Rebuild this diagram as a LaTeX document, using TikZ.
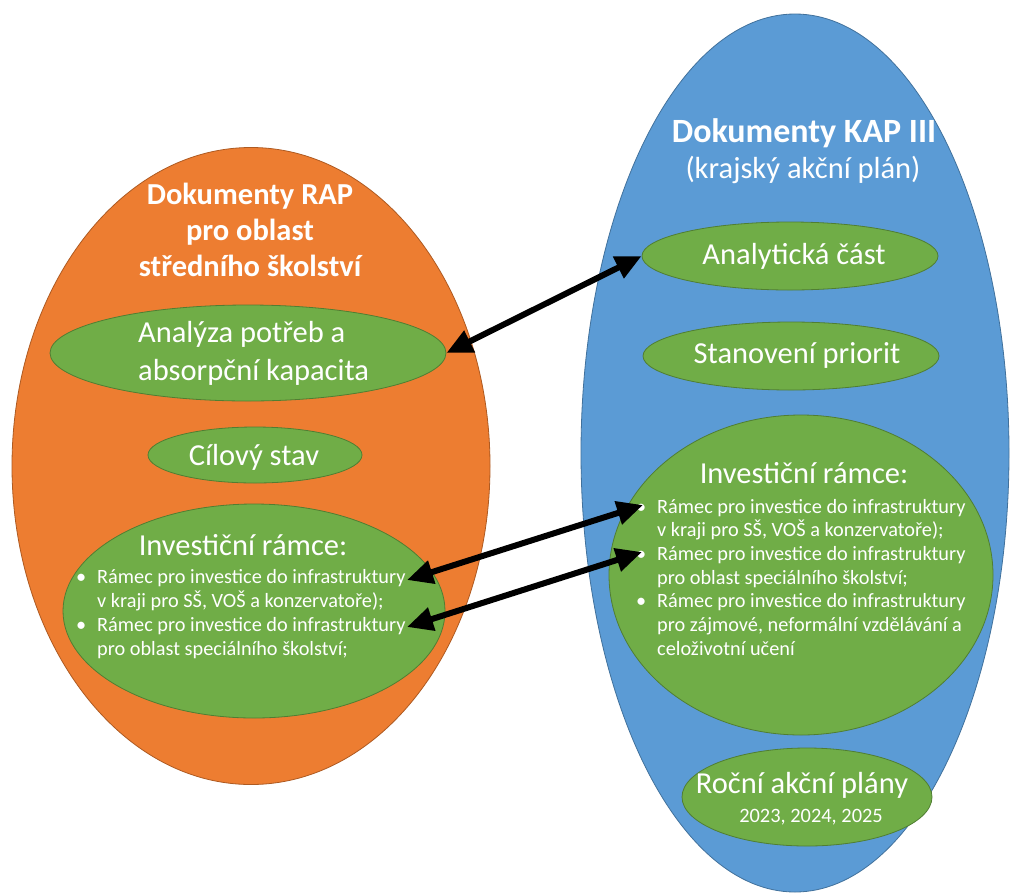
\documentclass[tikz,border=0pt]{standalone}
\usepackage{fontspec}
\setmainfont{Carlito}
\usetikzlibrary{shapes.geometric,arrows.meta}
\definecolor{raporange}{HTML}{ED7D31}
\definecolor{rapedge}{HTML}{AE5A21}
\definecolor{kapblue}{HTML}{5B9BD5}
\definecolor{kapedge}{HTML}{41719C}
\definecolor{partgreen}{HTML}{70AD47}
\definecolor{partedge}{HTML}{507E32}
\newcommand{\txtrows}[2][c]{\begin{tabular}[t]{@{}#1@{}}#2\end{tabular}}
\newcommand{\bulrows}[1]{\begin{tabular}[t]{@{}p{21pt}@{}l@{}}#1\end{tabular}}
\newcommand{\bigtxt}{\fontsize{30.5}{38}\selectfont}
\newcommand{\smalltxt}{\fontsize{20.3}{24.2}\selectfont}

\begin{document}
\begin{tikzpicture}[x=1pt,y=-1pt,text=white,
  doc/.style={ellipse,inner sep=0pt,line width=0.8pt},
  part/.style={ellipse,inner sep=0pt,line width=0.8pt,fill=partgreen,draw=partedge},
  lbl/.style={inner sep=0pt,anchor=base},
  link/.style={{Triangle[length=26pt,width=23pt]}-{Triangle[length=26pt,width=23pt]},line width=6pt,black}]
\useasboundingbox[fill=white] (0,0) rectangle (1011,892);

% two document sets
\draw (251,466) node[doc,fill=raporange,draw=rapedge,minimum width=478pt,minimum height=637pt](rap) {};
\draw (795,453) node[doc,fill=kapblue,draw=kapedge,minimum width=428pt,minimum height=878pt](kap) {};

% RAP parts
\draw (248,353) node[part,minimum width=396pt,minimum height=96pt](anal) {};
\draw (255,455) node[part,minimum width=214pt,minimum height=56pt](cil) {};
\draw (254,611) node[part,minimum width=382pt,minimum height=214pt](invl) {};

% KAP parts
\draw (790,256) node[part,minimum width=296pt,minimum height=68pt](analk) {};
\draw (791,356) node[part,minimum width=296pt,minimum height=68pt](prio) {};
\draw (801,575) node[part,minimum width=384pt,minimum height=320pt](invr) {};
\draw (807,797) node[part,minimum width=250pt,minimum height=98pt](rocni) {};

% texts
\node[lbl] (raptitle) at (250,204) {\fontsize{30.5}{36}\selectfont\bfseries\txtrows{Dokumenty RAP\\pro oblast\\středního školství}};
\node[lbl] (kaptitle) at (804,142) {\fontsize{34}{36}\selectfont\bfseries Dokumenty KAP III};
\node[lbl] (kapsub) at (803,178) {\bigtxt (krajský akční plán)};
\node[lbl,anchor=base west] (analtxt) at (138,342) {\bigtxt\txtrows[l]{Analýza potřeb a\\absorpční kapacita}};
\node[lbl] (ciltxt) at (254,465) {\bigtxt Cílový stav};
\node[lbl] (invltitle) at (243,555) {\bigtxt Investiční rámce:};
\node[lbl,anchor=base west] (invlbul) at (76,583) {\smalltxt\bulrows{
  \textbullet & Rámec pro investice do infrastruktury\\
  & v kraji pro SŠ, VOŠ a konzervatoře);\\
  \textbullet & Rámec pro investice do infrastruktury\\
  & pro oblast speciálního školství;}};
\node[lbl] (analktxt) at (794,264) {\bigtxt Analytická část};
\node[lbl] (priotxt) at (797,363) {\bigtxt Stanovení priorit};
\node[lbl] (invrtitle) at (804,483) {\bigtxt Investiční rámce:};
\node[lbl,anchor=base west] (invrbul) at (636,513) {\fontsize{20.3}{23.7}\selectfont\bulrows{
  \textbullet & Rámec pro investice do infrastruktury\\
  & v kraji pro SŠ, VOŠ a konzervatoře);\\
  \textbullet & Rámec pro investice do infrastruktury\\
  & pro oblast speciálního školství;\\
  \textbullet & Rámec pro investice do infrastruktury\\
  & pro zájmové, neformální vzdělávání a\\
  & celoživotní učení}};
\node[lbl] (rocnitxt) at (802,793) {\fontsize{30.5}{36}\selectfont Roční akční plány};
\node[lbl] (years) at (811,822) {\fontsize{20.4}{24}\selectfont 2023, 2024, 2025};

% links
\coordinate (lA) at (407,580);
\coordinate (rA) at (643,505);
\coordinate (lB) at (407,627);
\coordinate (rB) at (642,552);
\draw[link] (anal.east) -- (analk.west);
\draw[link] (lA) -- (rA);
\draw[link] (lB) -- (rB);
\end{tikzpicture}
\end{document}
